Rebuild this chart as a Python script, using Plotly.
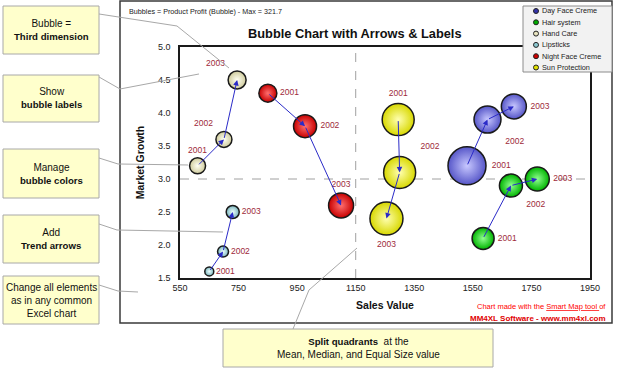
import plotly.graph_objects as go

# ---------------- data ----------------
series_names = ["Day Face Creme", "Hair system", "Hand Care", "Lipsticks",
                "Night Face Creme", "Sun Protection"]
years = ["2001", "2002", "2003"]

day_x = [1530, 1600, 1690]
day_y = [3.2, 3.9, 4.1]
day_s = [321.7, 162, 139]

hair_x = [1585, 1680, 1770]
hair_y = [2.1, 2.9, 3.0]
hair_s = [108, 118, 128]

hand_x = [610, 700, 745]
hand_y = [3.2, 3.6, 4.5]
hand_s = [57, 57, 72]

lip_x = [650, 697, 730]
lip_y = [1.6, 1.9, 2.5]
lip_s = [18, 27, 38]

night_x = [850, 977, 1100]
night_y = [4.3, 3.8, 2.6]
night_s = [72, 118, 139]

sun_x = [1295, 1300, 1255]
sun_y = [3.9, 3.1, 2.4]
sun_s = [228, 228, 243]

max_size = 321.7
quad_x = 1150
quad_y = 3.0

x_ticks = [550, 750, 950, 1150, 1350, 1550, 1750, 1950]
y_ticks = [1.5, 2.0, 2.5, 3.0, 3.5, 4.0, 4.5, 5.0]

# ---------------- styles ----------------
edge_colors = ["#5656C8", "#00B400", "#CFCB9C", "#78B4BC", "#C80000", "#D8D800"]
center_colors = ["#C8C8FF", "#90FF90", "#FFFFF4", "#EEFFFF", "#FF7070", "#FFFFB0"]
legend_dot = ["#3333AA", "#00AA00", "#E8E4C0", "#8CC8D0", "#CC0000", "#E0E000"]
label_pos = [
    ["middle right", "bottom right", "middle right"],
    ["middle right", "bottom right", "middle right"],
    ["top center", "top left", "top left"],
    ["middle right", "middle right", "middle right"],
    ["middle right", "middle right", "top center"],
    ["top center", "top right", "bottom center"],
]

FONT = "Liberation Sans, Arial, sans-serif"
W, H = 617, 370
L, R, T, B = 180, 590, 47, 278
D_MAX = 38.0
sizeref = 2.0 * max_size / D_MAX ** 2


def px(x):
    return (x - L) / (R - L)


def py(y):
    return (B - y) / (B - T)


def bold(s):
    return f"<b><span style='font-size:9.6px'>{s}</span></b>"


xs = [day_x, hair_x, hand_x, lip_x, night_x, sun_x]
ys = [day_y, hair_y, hand_y, lip_y, night_y, sun_y]
ss = [day_s, hair_s, hand_s, lip_s, night_s, sun_s]

fig = go.Figure()
for i, name in enumerate(series_names):
    fig.add_trace(go.Scatter(
        x=xs[i], y=ys[i], mode="markers+text", name=name,
        text=years, textposition=label_pos[i],
        textfont=dict(family=FONT, size=8.5, color="#9E2A3A"),
        marker=dict(size=ss[i], sizemode="area", sizeref=sizeref,
                    color=edge_colors[i],
                    gradient=dict(type="radial", color=center_colors[i]),
                    line=dict(color="#1A1A1A", width=1.5),
                    opacity=1),
        cliponaxis=False, showlegend=False, hoverinfo="x+y+name",
    ))

annotations = []
# trend arrows
for i in range(len(series_names)):
    for k in range(len(xs[i]) - 1):
        annotations.append(dict(
            x=xs[i][k + 1], y=ys[i][k + 1], ax=xs[i][k], ay=ys[i][k],
            xref="x", yref="y", axref="x", ayref="y", text="",
            showarrow=True, arrowhead=2, arrowsize=1.1, arrowwidth=1,
            arrowcolor="#2B2BC8", standoff=0,
        ))

shapes = []
# outer chart frame
shapes.append(dict(type="rect", xref="paper", yref="paper",
                   x0=px(120), x1=px(612), y0=py(1), y1=py(323),
                   line=dict(color="#3A3A3A", width=1.5), layer="below"))
# quadrant lines
shapes.append(dict(type="line", xref="x", yref="paper", x0=quad_x, x1=quad_x,
                   y0=0, y1=1, line=dict(color="#A0A0A0", width=1, dash="dash"),
                   layer="below"))
shapes.append(dict(type="line", xref="paper", yref="y", x0=0, x1=1,
                   y0=quad_y, y1=quad_y,
                   line=dict(color="#A0A0A0", width=1, dash="dash"),
                   layer="below"))

# callout boxes (x0, y0, x1, y1) in pixels, text, connector path
callouts = [
    ((3, 6, 99, 54), "Bubble =<br>" + bold("Third dimension"),
     [(99, 14), (177, 26), (229, 68)]),
    ((3, 75, 99, 122), "Show<br>" + bold("bubble labels"),
     [(99, 77), (120, 89), (199, 74)]),
    ((3, 149, 99, 198), "Manage<br>" + bold("bubble colors"),
     [(99, 158), (118, 164), (188, 165)]),
    ((3, 215, 99, 263), "Add<br>" + bold("Trend arrows"),
     [(99, 224), (117, 230), (223, 232)]),
    ((3, 276, 99, 324), "Change all elements<br>as in any common<br>Excel chart",
     [(99, 285), (118, 291), (138, 292)]),
    ((223, 329, 493, 367), bold("Split quadrants") + "  at the<br>Mean, Median, and Equal Size value",
     [(293, 329), (309, 290), (357, 248)]),
]
for (x0, y0, x1, y1), txt, path in callouts:
    shapes.append(dict(type="rect", xref="paper", yref="paper",
                       x0=px(x0), x1=px(x1), y0=py(y0), y1=py(y1),
                       fillcolor="#FFFFCC", line=dict(color="#A8A8A8", width=1),
                       layer="above"))
    d = "M " + " L ".join(f"{px(a):.5f},{py(b):.5f}" for a, b in path)
    shapes.append(dict(type="path", xref="paper", yref="paper", path=d,
                       line=dict(color="#A8A8A8", width=1), layer="above"))
    annotations.append(dict(x=px((x0 + x1) / 2), y=py((y0 + y1) / 2),
                            xref="paper", yref="paper", text=txt, showarrow=False,
                            xanchor="center", yanchor="middle", align="center",
                            font=dict(family=FONT, size=10, color="#111111")))

# legend box
lx0, ly0, lx1, ly1 = 523, 6, 612, 72
shapes.append(dict(type="rect", xref="paper", yref="paper",
                   x0=px(lx0), x1=px(lx1), y0=py(ly0), y1=py(ly1),
                   fillcolor="#F2F2F2", line=dict(color="#8C8C8C", width=1),
                   layer="above"))
for i, name in enumerate(series_names):
    cy = 11 + i * 11.3
    cx = 536
    shapes.append(dict(type="circle", xref="paper", yref="paper",
                       x0=px(cx - 2.5), x1=px(cx + 2.5), y0=py(cy - 2.5), y1=py(cy + 2.5),
                       fillcolor=legend_dot[i], line=dict(color="#222222", width=1),
                       layer="above"))
    annotations.append(dict(x=px(540), y=py(cy), xref="paper", yref="paper",
                            text=name, showarrow=False, xanchor="left",
                            yanchor="middle",
                            font=dict(family=FONT, size=7.3, color="#222222")))

# titles and notes
annotations.append(dict(x=px(355), y=py(33), xref="paper", yref="paper",
                        text="<b>Bubble Chart with Arrows & Labels</b>",
                        showarrow=False, xanchor="center", yanchor="middle",
                        font=dict(family=FONT, size=12.8, color="#111111")))
annotations.append(dict(x=px(127), y=py(12), xref="paper", yref="paper",
                        text="Bubbles = Product Profit (Bubble) - Max = 321.7",
                        showarrow=False, xanchor="left", yanchor="middle",
                        font=dict(family=FONT, size=7.2, color="#222222")))
annotations.append(dict(x=px(608), y=py(306), xref="paper", yref="paper",
                        text="Chart made with the <u>Smart Map tool </u>of",
                        showarrow=False, xanchor="right", yanchor="middle",
                        font=dict(family=FONT, size=7.5, color="#FF0000")))
annotations.append(dict(x=px(608), y=py(318), xref="paper", yref="paper",
                        text="<b>MM4XL Software - www.mm4xl.com</b>",
                        showarrow=False, xanchor="right", yanchor="middle",
                        font=dict(family=FONT, size=8, color="#E00000")))

fig.update_layout(
    width=W, height=H, autosize=False,
    margin=dict(l=L, r=W - R, t=T, b=H - B, pad=0),
    paper_bgcolor="white", plot_bgcolor="white",
    font=dict(family=FONT, size=9, color="#222222"),
    shapes=shapes, annotations=annotations, showlegend=False,
)
fig.update_xaxes(range=[550, 1950], tickvals=x_ticks,
                 ticktext=[str(v) for v in x_ticks],
                 showgrid=False, zeroline=False, showline=True, mirror=True,
                 linecolor="#1A1A1A", linewidth=1.5, ticks="",
                 tickfont=dict(family=FONT, size=9, color="#222222"),
                 title=dict(text="<b>Sales Value</b>", standoff=10,
                            font=dict(family=FONT, size=10.5, color="#111111")))
fig.update_yaxes(range=[1.5, 5.0], tickvals=y_ticks,
                 ticktext=[f"{v:.1f}" for v in y_ticks],
                 showgrid=False, zeroline=False, showline=True, mirror=True,
                 linecolor="#1A1A1A", linewidth=1.5, ticks="",
                 ticklabelstandoff=6,
                 tickfont=dict(family=FONT, size=9, color="#222222"),
                 title=dict(text="<b>Market Growth</b>", standoff=11,
                            font=dict(family=FONT, size=10.5, color="#111111")))

fig.write_html("out.html",
               config={"displayModeBar": False},
               post_script="document.body.style.margin='0';"
                           "document.body.style.overflow='hidden';")
